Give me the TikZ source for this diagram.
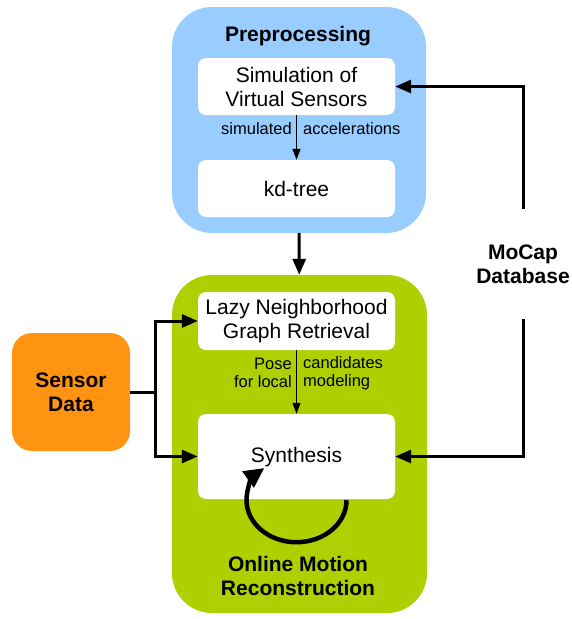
\documentclass[tikz,border=0pt]{standalone}
\usepackage{fontspec}
\setmainfont{Liberation Sans}
\usepackage{xcolor}
\usepackage{tikz}
\usetikzlibrary{arrows.meta}
\definecolor{preblue}{HTML}{99CCFF}
\definecolor{onlinegreen}{HTML}{AFD000}
\definecolor{sensororange}{HTML}{FF9412}
\tikzstyle{container} = [rectangle, rounded corners=40pt, draw=none]
\tikzstyle{process} = [rectangle, rounded corners=8pt, minimum width=197pt, text centered, align=center, fill=white, font=\fontsize{21}{24}\selectfont]
\tikzstyle{title} = [align=center, font=\fontsize{21}{24}\selectfont\bfseries]
\tikzstyle{smalllabel} = [align=center, inner sep=0pt, font=\fontsize{16.5}{18.5}\selectfont]
\tikzstyle{arrow} = [line width=3pt, -{Triangle[length=16pt,width=13pt]}]
\tikzstyle{thinarrow} = [line width=1.5pt, -{Triangle[length=11pt,width=8pt]}]
\tikzstyle{line} = [line width=3pt]

\begin{document}
\begin{tikzpicture}[x=1pt, y=-1pt]
		\useasboundingbox (0,0) rectangle (571,619);
		
		% containers
		\node (pre) [container, fill=preblue, minimum width=254pt, minimum height=226pt] at (299,120) {};
		\node (online) [container, fill=onlinegreen, minimum width=255pt, minimum height=338pt] at (299.5,444) {};
		\node (pretitle) [title] at (298,36) {Preprocessing};
		\node (onlinetitle) [title] at (298,576) {Online Motion\\Reconstruction};
		
		% inner steps
		\node (sim) [process, minimum height=57pt] at (296.5,86.5) {Simulation of\\Virtual Sensors};
		\node (kd) [process, minimum height=57pt] at (296.5,188.5) {kd-tree};
		\node (lazy) [process, minimum height=58pt] at (296.5,321) {Lazy Neighborhood\\Graph Retrieval};
		\node (synth) [process, minimum height=85pt] at (296.5,456.5) {};
		\node (synthtext) [process, fill=none] at (296.5,457) {Synthesis};
		
		\node (sensor) [rectangle, rounded corners=20pt, fill=sensororange, minimum width=118pt, minimum height=118pt, title] at (71,392) {Sensor\\Data};
		\node (db) [title, minimum height=110pt] at (523,264) {MoCap\\Database};
		
		% labels
		\node (simlbl) [smalllabel, anchor=east] at (292,129) {simulated};
		\node (acclbl) [smalllabel, anchor=west] at (303,129) {accelerations};
		\node (poselbl) [smalllabel, anchor=east, align=right] at (292,373) {Pose\\for local};
		\node (candlbl) [smalllabel, anchor=west, align=left] at (303,373) {candidates\\modeling};
		
		\coordinate (split) at (155,392);
		
		\draw [thinarrow] (sim) -- (kd);
		\draw [thinarrow] (lazy) -- (synth);
		\draw [arrow] (pre) -- (online);
		\draw [line] (sensor.east) -- (split);
		\draw [arrow] (split) |- (lazy.west);
		\draw [arrow] (split) |- (synth.west);
		\draw [arrow] (db.north) |- (sim.east);
		\draw [arrow] (db.south) |- (synth.east);
		\draw [line width=4.5pt, -{Triangle[length=20pt,width=19pt]}] (synth.south) ++(50,1) arc[start angle=0, end angle=-230, x radius=50pt, y radius=42pt];
		
	\end{tikzpicture}
\end{document}
